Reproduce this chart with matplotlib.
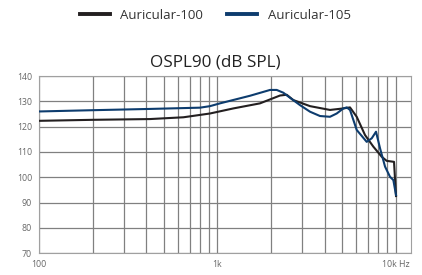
import matplotlib
matplotlib.use("Agg")
import matplotlib.pyplot as plt

plt.rcParams['font.family'] = ['Open Sans', 'DejaVu Sans']

# Auricular-100 (black)
freq_100 = [100, 200, 419, 645, 910, 1230, 1735, 2248, 2450, 2668, 3311, 4285,
            5092, 5548, 6050, 6734, 7500, 8360, 8906, 9795, 10050]
spl_100 = [122.3, 122.7, 123.0, 123.7, 125.2, 127.2, 129.2, 132.3, 132.6, 130.5,
           128.1, 126.6, 127.2, 127.6, 123.9, 116.7, 112.1, 108.1, 106.5, 106.1, 92.6]

# Auricular-105 (blue)
freq_105 = [100, 200, 419, 800, 910, 1035, 1525, 1976, 2153, 2346, 2558, 2910,
            3311, 3766, 4285, 4674, 5092, 5318, 5548, 6050, 6883, 7345, 7763,
            8180, 8725, 9300, 9710, 10050]
spl_105 = [126.0, 126.5, 127.0, 127.5, 128.1, 129.2, 132.2, 134.5, 134.5, 133.4,
           131.4, 128.5, 125.9, 124.2, 123.9, 125.2, 127.2, 127.6, 126.6, 118.7,
           114.0, 115.4, 118.0, 111.4, 104.2, 100.2, 98.9, 93.0]

major_x = [100, 1000, 10000]
major_labels = ['100', '1k', '10k Hz']
minor_x = [200, 300, 400, 500, 600, 700, 800, 900,
           2000, 3000, 4000, 5000, 6000, 7000, 8000, 9000]
y_ticks = [70, 80, 90, 100, 110, 120, 130, 140]

fig = plt.figure(figsize=(4.22, 2.75), dpi=100)
ax = fig.add_axes([0.0924, 0.079, 0.8816, 0.6446])

ax.plot(freq_100, spl_100, color='#231f20', lw=1.5, label='Auricular-100', zorder=3)
ax.plot(freq_105, spl_105, color='#0d3c6e', lw=1.5, label='Auricular-105', zorder=3)

ax.set_xscale('log')
ax.set_xlim(100, 12200)
ax.set_ylim(70, 140)
ax.set_xticks(major_x)
ax.set_xticklabels(major_labels)
ax.set_xticks(minor_x, minor=True)
ax.set_xticklabels([], minor=True)
ax.set_yticks(y_ticks)

ax.grid(True, which='both', axis='x', color='#808080', lw=0.9)
ax.grid(True, which='major', axis='y', color='#808080', lw=0.9)
for s in ax.spines.values():
    s.set_color('#a0a0a0')
    s.set_linewidth(0.8)

ax.tick_params(which='both', length=0, labelsize=6.3, labelcolor='#666666', pad=5)

ax.set_title('OSPL90 (dB SPL)', fontsize=12.3, color='#222222', pad=7, x=0.473)

fig.legend(loc='center', bbox_to_anchor=(0.51, 0.945), ncol=2, frameon=False,
           fontsize=9.5, handlelength=2.3, handletextpad=0.8, columnspacing=1.8,
           labelcolor='#333333')
for line in fig.legends[0].get_lines():
    line.set_linewidth(2.8)

fig.savefig('out.png', dpi=100)
